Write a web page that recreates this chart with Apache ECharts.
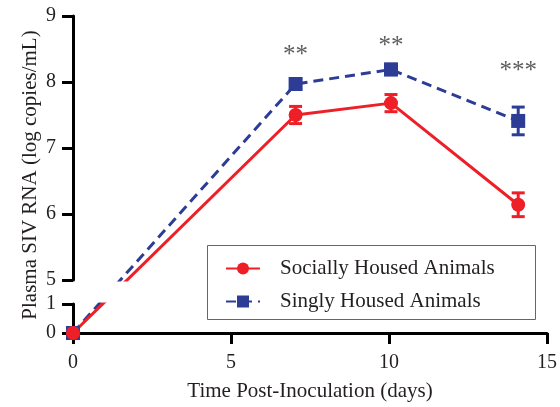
<!DOCTYPE html>
<html><head><meta charset="utf-8">
<script src="https://cdn.jsdelivr.net/npm/echarts@6/dist/echarts.min.js"></script>
<style>html,body{margin:0;padding:0;background:#fff}#c{width:560px;height:407px}</style>
</head><body><div id="c"></div>
<script>
// ---- data ----
const days = [0, 7, 10, 14];
const socialMean = [0, 7.50, 7.68, 6.14];
const socialErr = [0, 0.13, 0.13, 0.18];
const singleMean = [0, 7.97, 8.19, 7.41];
const singleErr = [0, 0.08, 0.08, 0.21];
const sigDays = [7, 10, 14];
const sigMarks = ['**', '**', '***'];
const sigLevel = [8.40, 8.54, 8.16];
const seriesNames = ['Socially Housed Animals', 'Singly Housed Animals'];
const upperRange = [5, 9];
const lowerRange = [0, 1];
const xRange = [0, 15];

const FONT = 'Liberation Serif';
const TXT = '#231f20';
const RED = '#ee1f26';
const BLUE = '#2d3d96';

const chart = echarts.init(document.getElementById('c'));

const axisLineStyle = {show: true, lineStyle: {color: '#000', width: 3}};
const tickStyle = {show: true, length: 11, lineStyle: {color: '#000', width: 3}};
const labelStyle = {fontFamily: FONT, fontSize: 20, color: TXT};

const base = {
  animation: false,
  grid: [
    {left: 73, right: 10, top: 16, height: 264},
    {left: 73, right: 10, top: 304, height: 29}
  ],
  xAxis: [
    {gridIndex: 0, type: 'value', min: xRange[0], max: xRange[1], interval: 5, show: false},
    {gridIndex: 1, type: 'value', min: xRange[0], max: xRange[1], interval: 5,
     axisLine: axisLineStyle, axisTick: tickStyle, splitLine: {show: false},
     axisLabel: Object.assign({margin: 20}, labelStyle),
     name: 'Time Post-Inoculation (days)', nameLocation: 'middle', nameGap: 48,
     nameTextStyle: {fontFamily: FONT, fontSize: 21, color: TXT}}
  ],
  yAxis: [
    {gridIndex: 0, type: 'value', min: upperRange[0], max: upperRange[1], interval: 1,
     axisLine: axisLineStyle, axisTick: tickStyle, splitLine: {show: false},
     axisLabel: Object.assign({margin: 17}, labelStyle)},
    {gridIndex: 1, type: 'value', min: lowerRange[0], max: lowerRange[1], interval: 1,
     axisLine: axisLineStyle, axisTick: tickStyle, splitLine: {show: false},
     axisLabel: Object.assign({margin: 17}, labelStyle)}
  ]
};
chart.setOption(base);

function inLower(v) { return v <= lowerRange[1]; }

function splitSeries(means) {
  const upper = [], lower = [];
  for (let i = 0; i < days.length; i++) {
    const p = [days[i], means[i]];
    const low = inLower(means[i]);
    (low ? lower : upper).push({value: p});
    [i - 1, i + 1].forEach(j => {
      if (j < 0 || j >= days.length) return;
      if (inLower(means[j]) !== low) {
        const px = chart.convertToPixel({gridIndex: low ? 1 : 0}, p);
        const other = chart.convertFromPixel({gridIndex: low ? 0 : 1}, px);
        (low ? upper : lower).push({value: other, symbol: 'none'});
      }
    });
  }
  upper.sort((a, b) => a.value[0] - b.value[0]);
  lower.sort((a, b) => a.value[0] - b.value[0]);
  return {upper, lower};
}

function lineSeries(name, means, color, lineType, symbol, size) {
  const s = splitSeries(means);
  const common = {
    type: 'line', name, symbol, symbolSize: size, clip: true,
    lineStyle: {color, width: 3, type: lineType},
    itemStyle: {color, opacity: 1}, z: 3
  };
  return [
    Object.assign({}, common, {xAxisIndex: 0, yAxisIndex: 0, data: s.upper}),
    Object.assign({}, common, {xAxisIndex: 1, yAxisIndex: 1, data: s.lower})
  ];
}

function errSeries(means, errs, color) {
  const data = [];
  days.forEach((d, i) => { if (!inLower(means[i])) data.push([d, means[i] - errs[i], means[i] + errs[i]]); });
  return {
    type: 'custom', xAxisIndex: 0, yAxisIndex: 0, z: 2, silent: true,
    encode: {x: 0, y: [1, 2]},
    renderItem: (params, api) => {
      const x = api.value(0);
      const top = api.coord([x, api.value(2)]);
      const bot = api.coord([x, api.value(1)]);
      const hw = 6.5;
      const st = {stroke: color, lineWidth: 3};
      return {type: 'group', children: [
        {type: 'line', shape: {x1: top[0], y1: top[1], x2: bot[0], y2: bot[1]}, style: st},
        {type: 'line', shape: {x1: top[0] - hw, y1: top[1], x2: top[0] + hw, y2: top[1]}, style: st},
        {type: 'line', shape: {x1: bot[0] - hw, y1: bot[1], x2: bot[0] + hw, y2: bot[1]}, style: st}
      ]};
    },
    data
  };
}

const series = [].concat(
  errSeries(singleMean, singleErr, BLUE),
  lineSeries(seriesNames[1], singleMean, BLUE, [10, 6], 'rect', 14),
  errSeries(socialMean, socialErr, RED),
  lineSeries(seriesNames[0], socialMean, RED, 'solid', 'circle', 14),
  [{
    type: 'scatter', name: 'sig', xAxisIndex: 0, yAxisIndex: 0, symbolSize: 0, silent: true,
    data: sigDays.map((d, i) => [d, sigLevel[i]]),
    label: {show: true, position: 'inside', formatter: p => sigMarks[p.dataIndex],
            fontFamily: FONT, fontSize: 25, color: '#333'}
  }]
);

chart.setOption({
  series,
  legend: {
    data: seriesNames, orient: 'vertical', left: 225, top: 258, padding: 0,
    itemWidth: 34, itemHeight: 15, itemGap: 12, selectedMode: false,
    textStyle: {fontFamily: FONT, fontSize: 21, color: TXT, padding: [0, 0, 0, 15]}
  },
  graphic: [
    {type: 'rect', left: 207, top: 245, z: -1,
     shape: {width: 328, height: 74}, style: {fill: '#fff', stroke: '#666', lineWidth: 1}},
    {type: 'text', x: 30, y: 175, rotation: Math.PI / 2,
     style: {text: 'Plasma SIV RNA (log copies/mL)', font: '21px "Liberation Serif"', fill: TXT,
             align: 'center', verticalAlign: 'middle'}}
  ]
});
</script></body></html>
